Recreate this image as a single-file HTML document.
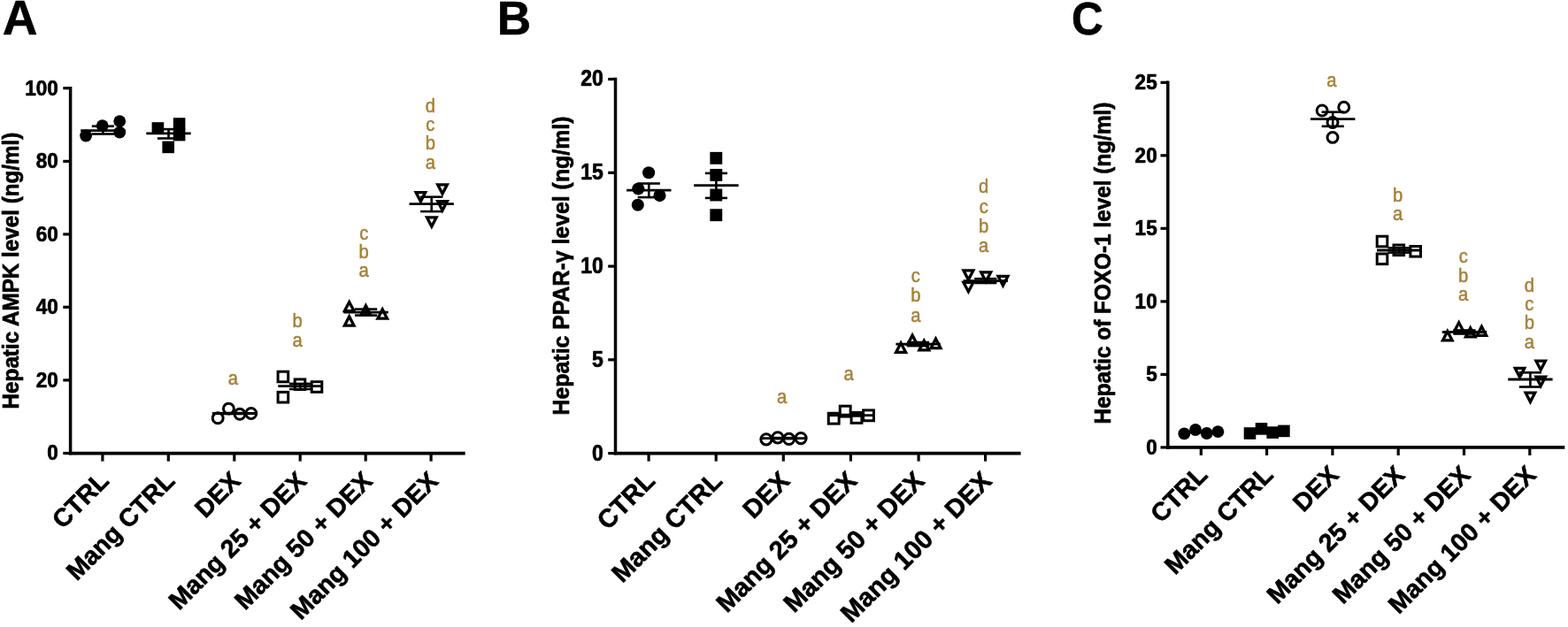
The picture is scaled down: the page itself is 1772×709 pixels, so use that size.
<!DOCTYPE html>
<html lang="en">
<head>
<meta charset="utf-8">
<title>Hepatic AMPK, PPAR-γ and FOXO-1 levels</title>
<style>
html,body{margin:0;padding:0;background:#fff;}
body{width:1772px;height:709px;overflow:hidden;}
svg{display:block;font-family:'Liberation Sans', sans-serif;}
</style>
</head>
<body>
<svg width="1772" height="709" viewBox="0 0 1772 709">
<rect width="1772" height="709" fill="#fff"/>
<g id="panel-A">
<circle cx="97.1" cy="153.5" r="6.9" fill="#000"/>
<circle cx="115.7" cy="142.2" r="6.9" fill="#000"/>
<circle cx="135.2" cy="137.1" r="6.9" fill="#000"/>
<circle cx="135.2" cy="149.7" r="6.9" fill="#000"/>
<rect x="171.6" y="138.2" width="13.6" height="13.6" fill="#000"/>
<rect x="195.8" y="133.2" width="13.6" height="13.6" fill="#000"/>
<rect x="195.8" y="145.8" width="13.6" height="13.6" fill="#000"/>
<rect x="183.4" y="159.6" width="13.6" height="13.6" fill="#000"/>
<circle cx="246.2" cy="472.8" r="5.95" fill="#fff" stroke="#000" stroke-width="3.0"/>
<circle cx="258.4" cy="462.1" r="5.95" fill="#fff" stroke="#000" stroke-width="3.0"/>
<circle cx="271" cy="468.3" r="5.95" fill="#fff" stroke="#000" stroke-width="3.0"/>
<circle cx="283.8" cy="467.5" r="5.95" fill="#fff" stroke="#000" stroke-width="3.0"/>
<rect x="314.1" y="420.2" width="11.6" height="11.6" fill="#fff" stroke="#000" stroke-width="3.0"/>
<rect x="314.1" y="443.4" width="11.6" height="11.6" fill="#fff" stroke="#000" stroke-width="3.0"/>
<rect x="333.2" y="428.9" width="11.6" height="11.6" fill="#fff" stroke="#000" stroke-width="3.0"/>
<rect x="352.2" y="431.7" width="11.6" height="11.6" fill="#fff" stroke="#000" stroke-width="3.0"/>
<polygon points="394.7,337.9 386.7,353.3 402.7,353.3" fill="#000"/>
<polygon points="394.7,345.06 392.13,350 397.27,350" fill="#fff"/>
<polygon points="394.7,354.3 386.7,369.7 402.7,369.7" fill="#000"/>
<polygon points="394.7,361.46 392.13,366.4 397.27,366.4" fill="#fff"/>
<polygon points="413.4,342.1 405.4,357.5 421.4,357.5" fill="#000"/>
<polygon points="413.4,349.26 410.83,354.2 415.97,354.2" fill="#fff"/>
<polygon points="432.2,346.3 424.2,361.7 440.2,361.7" fill="#000"/>
<polygon points="432.2,353.46 429.63,358.4 434.77,358.4" fill="#fff"/>
<polygon points="475.4,231.4 467.4,216 483.4,216" fill="#000"/>
<polygon points="475.4,224.24 472.83,219.3 477.97,219.3" fill="#fff"/>
<polygon points="500,222.7 492,207.3 508,207.3" fill="#000"/>
<polygon points="500,215.54 497.43,210.6 502.57,210.6" fill="#fff"/>
<polygon points="500,241.5 492,226.1 508,226.1" fill="#000"/>
<polygon points="500,234.34 497.43,229.4 502.57,229.4" fill="#fff"/>
<polygon points="487.8,259.7 479.8,244.3 495.8,244.3" fill="#000"/>
<polygon points="487.8,252.54 485.23,247.6 490.37,247.6" fill="#fff"/>
<line x1="91.2" y1="147.6" x2="141.6" y2="147.6" stroke="#000" stroke-width="2.8"/>
<line x1="103.8" y1="142.7" x2="129" y2="142.7" stroke="#000" stroke-width="2.5999999999999996"/>
<line x1="103.8" y1="151.5" x2="129" y2="151.5" stroke="#000" stroke-width="2.5999999999999996"/>
<line x1="116.4" y1="142.7" x2="116.4" y2="151.5" stroke="#000" stroke-width="2.5999999999999996"/>
<line x1="165.3" y1="150.9" x2="215.7" y2="150.9" stroke="#000" stroke-width="2.8"/>
<line x1="177.9" y1="146.1" x2="203.1" y2="146.1" stroke="#000" stroke-width="2.5999999999999996"/>
<line x1="177.9" y1="156.5" x2="203.1" y2="156.5" stroke="#000" stroke-width="2.5999999999999996"/>
<line x1="190.5" y1="146.1" x2="190.5" y2="156.5" stroke="#000" stroke-width="2.5999999999999996"/>
<line x1="239.8" y1="467.5" x2="290.2" y2="467.5" stroke="#000" stroke-width="2.8"/>
<line x1="252.4" y1="467" x2="277.6" y2="467" stroke="#000" stroke-width="2.5999999999999996"/>
<line x1="252.4" y1="468" x2="277.6" y2="468" stroke="#000" stroke-width="2.5999999999999996"/>
<line x1="265" y1="467" x2="265" y2="468" stroke="#000" stroke-width="2.5999999999999996"/>
<text transform="translate(263.3 434.9) scale(0.94 1)" font-size="21.5" font-weight="normal" text-anchor="middle" fill="#a68037" stroke="#a68037" stroke-width="0.5" stroke-linejoin="round">a</text>
<line x1="314.3" y1="436.7" x2="364.7" y2="436.7" stroke="#000" stroke-width="2.8"/>
<line x1="326.9" y1="433.9" x2="352.1" y2="433.9" stroke="#000" stroke-width="2.5999999999999996"/>
<line x1="326.9" y1="440" x2="352.1" y2="440" stroke="#000" stroke-width="2.5999999999999996"/>
<line x1="339.5" y1="433.9" x2="339.5" y2="440" stroke="#000" stroke-width="2.5999999999999996"/>
<text transform="translate(336.1 392.2) scale(0.94 1)" font-size="21.5" font-weight="normal" text-anchor="middle" fill="#a68037" stroke="#a68037" stroke-width="0.5" stroke-linejoin="round">a</text>
<text transform="translate(336.1 369.6) scale(0.94 1)" font-size="21.5" font-weight="normal" text-anchor="middle" fill="#a68037" stroke="#a68037" stroke-width="0.5" stroke-linejoin="round">b</text>
<line x1="388.4" y1="353.2" x2="438.8" y2="353.2" stroke="#000" stroke-width="2.8"/>
<line x1="401" y1="349.6" x2="426.2" y2="349.6" stroke="#000" stroke-width="2.5999999999999996"/>
<line x1="401" y1="356.6" x2="426.2" y2="356.6" stroke="#000" stroke-width="2.5999999999999996"/>
<line x1="413.6" y1="349.6" x2="413.6" y2="356.6" stroke="#000" stroke-width="2.5999999999999996"/>
<text transform="translate(411.2 313.1) scale(0.94 1)" font-size="21.5" font-weight="normal" text-anchor="middle" fill="#a68037" stroke="#a68037" stroke-width="0.5" stroke-linejoin="round">a</text>
<text transform="translate(411.2 291.9) scale(0.94 1)" font-size="21.5" font-weight="normal" text-anchor="middle" fill="#a68037" stroke="#a68037" stroke-width="0.5" stroke-linejoin="round">b</text>
<text transform="translate(411.2 270.7) scale(0.94 1)" font-size="21.5" font-weight="normal" text-anchor="middle" fill="#a68037" stroke="#a68037" stroke-width="0.5" stroke-linejoin="round">c</text>
<line x1="462.5" y1="230.6" x2="512.9" y2="230.6" stroke="#000" stroke-width="2.8"/>
<line x1="475.1" y1="222.7" x2="500.3" y2="222.7" stroke="#000" stroke-width="2.5999999999999996"/>
<line x1="475.1" y1="239.1" x2="500.3" y2="239.1" stroke="#000" stroke-width="2.5999999999999996"/>
<line x1="487.7" y1="222.7" x2="487.7" y2="239.1" stroke="#000" stroke-width="2.5999999999999996"/>
<text transform="translate(486.3 190.6) scale(0.94 1)" font-size="21.5" font-weight="normal" text-anchor="middle" fill="#a68037" stroke="#a68037" stroke-width="0.5" stroke-linejoin="round">a</text>
<text transform="translate(486.3 169.3) scale(0.94 1)" font-size="21.5" font-weight="normal" text-anchor="middle" fill="#a68037" stroke="#a68037" stroke-width="0.5" stroke-linejoin="round">b</text>
<text transform="translate(486.3 148) scale(0.94 1)" font-size="21.5" font-weight="normal" text-anchor="middle" fill="#a68037" stroke="#a68037" stroke-width="0.5" stroke-linejoin="round">c</text>
<text transform="translate(486.3 126.7) scale(0.94 1)" font-size="21.5" font-weight="normal" text-anchor="middle" fill="#a68037" stroke="#a68037" stroke-width="0.5" stroke-linejoin="round">d</text>
<line x1="79.6" y1="97.95" x2="79.6" y2="514.35" stroke="#000" stroke-width="3.5"/>
<line x1="77.85" y1="512.6" x2="525.7" y2="512.6" stroke="#000" stroke-width="3.7"/>
<line x1="71.3" y1="512.5" x2="79.6" y2="512.5" stroke="#000" stroke-width="3.2"/>
<text transform="translate(65.9 520.4) scale(0.925 1)" font-size="24.4" font-weight="bold" text-anchor="end" fill="#000" stroke="#000" stroke-width="0.7" stroke-linejoin="round">0</text>
<line x1="71.3" y1="429.9" x2="79.6" y2="429.9" stroke="#000" stroke-width="3.2"/>
<text transform="translate(65.9 437.8) scale(0.925 1)" font-size="24.4" font-weight="bold" text-anchor="end" fill="#000" stroke="#000" stroke-width="0.7" stroke-linejoin="round">20</text>
<line x1="71.3" y1="347.3" x2="79.6" y2="347.3" stroke="#000" stroke-width="3.2"/>
<text transform="translate(65.9 355.2) scale(0.925 1)" font-size="24.4" font-weight="bold" text-anchor="end" fill="#000" stroke="#000" stroke-width="0.7" stroke-linejoin="round">40</text>
<line x1="71.3" y1="264.9" x2="79.6" y2="264.9" stroke="#000" stroke-width="3.2"/>
<text transform="translate(65.9 272.8) scale(0.925 1)" font-size="24.4" font-weight="bold" text-anchor="end" fill="#000" stroke="#000" stroke-width="0.7" stroke-linejoin="round">60</text>
<line x1="71.3" y1="182.4" x2="79.6" y2="182.4" stroke="#000" stroke-width="3.2"/>
<text transform="translate(65.9 190.3) scale(0.925 1)" font-size="24.4" font-weight="bold" text-anchor="end" fill="#000" stroke="#000" stroke-width="0.7" stroke-linejoin="round">80</text>
<line x1="71.3" y1="99.7" x2="79.6" y2="99.7" stroke="#000" stroke-width="3.2"/>
<text transform="translate(65.9 107.6) scale(0.925 1)" font-size="24.4" font-weight="bold" text-anchor="end" fill="#000" stroke="#000" stroke-width="0.7" stroke-linejoin="round">100</text>
<line x1="115.9" y1="512.6" x2="115.9" y2="521.6" stroke="#000" stroke-width="3.2"/>
<text transform="translate(124.6 545.4) rotate(-45)" font-size="28.6" font-weight="bold" text-anchor="end" fill="#000" stroke="#000" stroke-width="0.6" stroke-linejoin="round">CTRL</text>
<line x1="190.3" y1="512.6" x2="190.3" y2="521.6" stroke="#000" stroke-width="3.2"/>
<text transform="translate(199 545.4) rotate(-45)" font-size="28.6" font-weight="bold" text-anchor="end" fill="#000" stroke="#000" stroke-width="0.6" stroke-linejoin="round">Mang CTRL</text>
<line x1="264.8" y1="512.6" x2="264.8" y2="521.6" stroke="#000" stroke-width="3.2"/>
<text transform="translate(273.5 545.4) rotate(-45)" font-size="28.6" font-weight="bold" text-anchor="end" fill="#000" stroke="#000" stroke-width="0.6" stroke-linejoin="round">DEX</text>
<line x1="339.2" y1="512.6" x2="339.2" y2="521.6" stroke="#000" stroke-width="3.2"/>
<text transform="translate(347.9 545.4) rotate(-45)" font-size="28.6" font-weight="bold" text-anchor="end" fill="#000" stroke="#000" stroke-width="0.6" stroke-linejoin="round">Mang 25 + DEX</text>
<line x1="413.2" y1="512.6" x2="413.2" y2="521.6" stroke="#000" stroke-width="3.2"/>
<text transform="translate(422.4 545.4) rotate(-45)" font-size="28.6" font-weight="bold" text-anchor="end" fill="#000" stroke="#000" stroke-width="0.6" stroke-linejoin="round">Mang 50 + DEX</text>
<line x1="487.1" y1="512.6" x2="487.1" y2="521.6" stroke="#000" stroke-width="3.2"/>
<text transform="translate(496.8 545.4) rotate(-45)" font-size="28.6" font-weight="bold" text-anchor="end" fill="#000" stroke="#000" stroke-width="0.6" stroke-linejoin="round">Mang 100 + DEX</text>
<text transform="translate(21.4 306) rotate(-90) scale(0.9431 1)" font-size="25.7" font-weight="bold" text-anchor="middle" fill="#000" stroke="#000" stroke-width="0.7" stroke-linejoin="round">Hepatic AMPK level (ng/ml)</text>
<text transform="translate(2.7 39.4)" font-size="55.0" font-weight="bold" text-anchor="start" fill="#000" stroke="#000" stroke-width="0.6" stroke-linejoin="round">A</text>
</g>
<g id="panel-B">
<circle cx="733.1" cy="195.3" r="7.05" fill="#000"/>
<circle cx="721.3" cy="213.5" r="7.05" fill="#000"/>
<circle cx="745.5" cy="221.1" r="7.05" fill="#000"/>
<circle cx="720.8" cy="231.7" r="7.05" fill="#000"/>
<rect x="802.35" y="171.85" width="13.9" height="13.9" fill="#000"/>
<rect x="802.35" y="190.95" width="13.9" height="13.9" fill="#000"/>
<rect x="802.35" y="213.55" width="13.9" height="13.9" fill="#000"/>
<rect x="802.35" y="236.25" width="13.9" height="13.9" fill="#000"/>
<circle cx="865.9" cy="496.8" r="6.08" fill="#fff" stroke="#000" stroke-width="3.0"/>
<circle cx="878.9" cy="494.8" r="6.08" fill="#fff" stroke="#000" stroke-width="3.0"/>
<circle cx="891.6" cy="496.4" r="6.08" fill="#fff" stroke="#000" stroke-width="3.0"/>
<circle cx="905.1" cy="495.6" r="6.08" fill="#fff" stroke="#000" stroke-width="3.0"/>
<rect x="936.27" y="467.27" width="11.86" height="11.86" fill="#fff" stroke="#000" stroke-width="3.0"/>
<rect x="949.27" y="459.17" width="11.86" height="11.86" fill="#fff" stroke="#000" stroke-width="3.0"/>
<rect x="962.07" y="466.47" width="11.86" height="11.86" fill="#fff" stroke="#000" stroke-width="3.0"/>
<rect x="975.57" y="463.87" width="11.86" height="11.86" fill="#fff" stroke="#000" stroke-width="3.0"/>
<polygon points="1018.1,384.33 1009.92,400.07 1026.28,400.07" fill="#000"/>
<polygon points="1018.1,391.49 1015.36,396.77 1020.84,396.77" fill="#fff"/>
<polygon points="1031.1,375.53 1022.92,391.27 1039.28,391.27" fill="#000"/>
<polygon points="1031.1,382.69 1028.36,387.97 1033.84,387.97" fill="#fff"/>
<polygon points="1044.3,381.83 1036.12,397.57 1052.48,397.57" fill="#000"/>
<polygon points="1044.3,388.99 1041.56,394.27 1047.04,394.27" fill="#fff"/>
<polygon points="1057.5,379.53 1049.32,395.27 1065.68,395.27" fill="#000"/>
<polygon points="1057.5,386.69 1054.76,391.97 1060.24,391.97" fill="#fff"/>
<polygon points="1094.4,319.97 1086.22,304.23 1102.58,304.23" fill="#000"/>
<polygon points="1094.4,312.81 1091.66,307.53 1097.14,307.53" fill="#fff"/>
<polygon points="1094.4,333.37 1086.22,317.63 1102.58,317.63" fill="#000"/>
<polygon points="1094.4,326.21 1091.66,320.93 1097.14,320.93" fill="#fff"/>
<polygon points="1114.2,321.97 1106.02,306.23 1122.38,306.23" fill="#000"/>
<polygon points="1114.2,314.81 1111.46,309.53 1116.94,309.53" fill="#fff"/>
<polygon points="1133.5,326.47 1125.32,310.73 1141.68,310.73" fill="#000"/>
<polygon points="1133.5,319.31 1130.76,314.03 1136.24,314.03" fill="#fff"/>
<line x1="708.1" y1="215.1" x2="758.5" y2="215.1" stroke="#000" stroke-width="2.8"/>
<line x1="720.7" y1="207.5" x2="745.9" y2="207.5" stroke="#000" stroke-width="2.5999999999999996"/>
<line x1="720.7" y1="223.1" x2="745.9" y2="223.1" stroke="#000" stroke-width="2.5999999999999996"/>
<line x1="733.3" y1="207.5" x2="733.3" y2="223.1" stroke="#000" stroke-width="2.5999999999999996"/>
<line x1="784.2" y1="209.7" x2="834.6" y2="209.7" stroke="#000" stroke-width="2.8"/>
<line x1="796.8" y1="195.9" x2="822" y2="195.9" stroke="#000" stroke-width="2.5999999999999996"/>
<line x1="796.8" y1="223.9" x2="822" y2="223.9" stroke="#000" stroke-width="2.5999999999999996"/>
<line x1="809.4" y1="195.9" x2="809.4" y2="223.9" stroke="#000" stroke-width="2.5999999999999996"/>
<line x1="860.1" y1="495.6" x2="910.5" y2="495.6" stroke="#000" stroke-width="2.8"/>
<line x1="872.7" y1="495.1" x2="897.9" y2="495.1" stroke="#000" stroke-width="2.5999999999999996"/>
<line x1="872.7" y1="496.1" x2="897.9" y2="496.1" stroke="#000" stroke-width="2.5999999999999996"/>
<line x1="885.3" y1="495.1" x2="885.3" y2="496.1" stroke="#000" stroke-width="2.5999999999999996"/>
<text transform="translate(883.7 456.4) scale(0.94 1)" font-size="21.5" font-weight="normal" text-anchor="middle" fill="#a68037" stroke="#a68037" stroke-width="0.5" stroke-linejoin="round">a</text>
<line x1="936.4" y1="469.7" x2="986.8" y2="469.7" stroke="#000" stroke-width="2.8"/>
<line x1="949" y1="469" x2="974.2" y2="469" stroke="#000" stroke-width="2.5999999999999996"/>
<line x1="949" y1="470.4" x2="974.2" y2="470.4" stroke="#000" stroke-width="2.5999999999999996"/>
<line x1="961.6" y1="469" x2="961.6" y2="470.4" stroke="#000" stroke-width="2.5999999999999996"/>
<text transform="translate(959.2 429.8) scale(0.94 1)" font-size="21.5" font-weight="normal" text-anchor="middle" fill="#a68037" stroke="#a68037" stroke-width="0.5" stroke-linejoin="round">a</text>
<line x1="1012.4" y1="389.1" x2="1062.8" y2="389.1" stroke="#000" stroke-width="2.8"/>
<line x1="1025" y1="387.1" x2="1050.2" y2="387.1" stroke="#000" stroke-width="2.5999999999999996"/>
<line x1="1025" y1="391.1" x2="1050.2" y2="391.1" stroke="#000" stroke-width="2.5999999999999996"/>
<line x1="1037.6" y1="387.1" x2="1037.6" y2="391.1" stroke="#000" stroke-width="2.5999999999999996"/>
<text transform="translate(1034.8 363.5) scale(0.94 1)" font-size="21.5" font-weight="normal" text-anchor="middle" fill="#a68037" stroke="#a68037" stroke-width="0.5" stroke-linejoin="round">a</text>
<text transform="translate(1034.8 341.3) scale(0.94 1)" font-size="21.5" font-weight="normal" text-anchor="middle" fill="#a68037" stroke="#a68037" stroke-width="0.5" stroke-linejoin="round">b</text>
<text transform="translate(1034.8 319.1) scale(0.94 1)" font-size="21.5" font-weight="normal" text-anchor="middle" fill="#a68037" stroke="#a68037" stroke-width="0.5" stroke-linejoin="round">c</text>
<line x1="1088.6" y1="317.6" x2="1139" y2="317.6" stroke="#000" stroke-width="2.8"/>
<line x1="1101.2" y1="315.2" x2="1126.4" y2="315.2" stroke="#000" stroke-width="2.5999999999999996"/>
<line x1="1101.2" y1="320" x2="1126.4" y2="320" stroke="#000" stroke-width="2.5999999999999996"/>
<line x1="1113.8" y1="315.2" x2="1113.8" y2="320" stroke="#000" stroke-width="2.5999999999999996"/>
<text transform="translate(1111.7 285.3) scale(0.94 1)" font-size="21.5" font-weight="normal" text-anchor="middle" fill="#a68037" stroke="#a68037" stroke-width="0.5" stroke-linejoin="round">a</text>
<text transform="translate(1111.7 263) scale(0.94 1)" font-size="21.5" font-weight="normal" text-anchor="middle" fill="#a68037" stroke="#a68037" stroke-width="0.5" stroke-linejoin="round">b</text>
<text transform="translate(1111.7 240.7) scale(0.94 1)" font-size="21.5" font-weight="normal" text-anchor="middle" fill="#a68037" stroke="#a68037" stroke-width="0.5" stroke-linejoin="round">c</text>
<text transform="translate(1111.7 218.4) scale(0.94 1)" font-size="21.5" font-weight="normal" text-anchor="middle" fill="#a68037" stroke="#a68037" stroke-width="0.5" stroke-linejoin="round">d</text>
<line x1="695.5" y1="87.75" x2="695.5" y2="514.35" stroke="#000" stroke-width="3.5"/>
<line x1="693.75" y1="512.6" x2="1153.6" y2="512.6" stroke="#000" stroke-width="3.7"/>
<line x1="687.2" y1="512.6" x2="695.5" y2="512.6" stroke="#000" stroke-width="3.2"/>
<text transform="translate(681.8 520.5) scale(0.925 1)" font-size="24.94" font-weight="bold" text-anchor="end" fill="#000" stroke="#000" stroke-width="0.7" stroke-linejoin="round">0</text>
<line x1="687.2" y1="406.8" x2="695.5" y2="406.8" stroke="#000" stroke-width="3.2"/>
<text transform="translate(681.8 414.7) scale(0.925 1)" font-size="24.94" font-weight="bold" text-anchor="end" fill="#000" stroke="#000" stroke-width="0.7" stroke-linejoin="round">5</text>
<line x1="687.2" y1="301.1" x2="695.5" y2="301.1" stroke="#000" stroke-width="3.2"/>
<text transform="translate(681.8 309) scale(0.925 1)" font-size="24.94" font-weight="bold" text-anchor="end" fill="#000" stroke="#000" stroke-width="0.7" stroke-linejoin="round">10</text>
<line x1="687.2" y1="195.3" x2="695.5" y2="195.3" stroke="#000" stroke-width="3.2"/>
<text transform="translate(681.8 203.2) scale(0.925 1)" font-size="24.94" font-weight="bold" text-anchor="end" fill="#000" stroke="#000" stroke-width="0.7" stroke-linejoin="round">15</text>
<line x1="687.2" y1="89.5" x2="695.5" y2="89.5" stroke="#000" stroke-width="3.2"/>
<text transform="translate(681.8 97.4) scale(0.925 1)" font-size="24.94" font-weight="bold" text-anchor="end" fill="#000" stroke="#000" stroke-width="0.7" stroke-linejoin="round">20</text>
<line x1="733.1" y1="512.6" x2="733.1" y2="521.6" stroke="#000" stroke-width="3.2"/>
<text transform="translate(741.8 545.4) rotate(-45)" font-size="29.23" font-weight="bold" text-anchor="end" fill="#000" stroke="#000" stroke-width="0.6" stroke-linejoin="round">CTRL</text>
<line x1="809.2" y1="512.6" x2="809.2" y2="521.6" stroke="#000" stroke-width="3.2"/>
<text transform="translate(817.9 545.4) rotate(-45)" font-size="29.23" font-weight="bold" text-anchor="end" fill="#000" stroke="#000" stroke-width="0.6" stroke-linejoin="round">Mang CTRL</text>
<line x1="885.3" y1="512.6" x2="885.3" y2="521.6" stroke="#000" stroke-width="3.2"/>
<text transform="translate(894 545.4) rotate(-45)" font-size="29.23" font-weight="bold" text-anchor="end" fill="#000" stroke="#000" stroke-width="0.6" stroke-linejoin="round">DEX</text>
<line x1="961.4" y1="512.6" x2="961.4" y2="521.6" stroke="#000" stroke-width="3.2"/>
<text transform="translate(970.1 545.4) rotate(-45)" font-size="29.23" font-weight="bold" text-anchor="end" fill="#000" stroke="#000" stroke-width="0.6" stroke-linejoin="round">Mang 25 + DEX</text>
<line x1="1038.1" y1="512.6" x2="1038.1" y2="521.6" stroke="#000" stroke-width="3.2"/>
<text transform="translate(1046.2 545.4) rotate(-45)" font-size="29.23" font-weight="bold" text-anchor="end" fill="#000" stroke="#000" stroke-width="0.6" stroke-linejoin="round">Mang 50 + DEX</text>
<line x1="1113.6" y1="512.6" x2="1113.6" y2="521.6" stroke="#000" stroke-width="3.2"/>
<text transform="translate(1122.3 545.4) rotate(-45)" font-size="29.23" font-weight="bold" text-anchor="end" fill="#000" stroke="#000" stroke-width="0.6" stroke-linejoin="round">Mang 100 + DEX</text>
<text transform="translate(642.9 300.5) rotate(-90) scale(0.9462 1)" font-size="26.27" font-weight="bold" text-anchor="middle" fill="#000" stroke="#000" stroke-width="0.7" stroke-linejoin="round">Hepatic PPAR-γ level (ng/ml)</text>
<text transform="translate(561.65 39.17) scale(0.996 1)" font-size="53.3" font-weight="bold" text-anchor="start" fill="#000" stroke="#000" stroke-width="0.6" stroke-linejoin="round">B</text>
</g>
<g id="panel-C">
<circle cx="1338.3" cy="490.4" r="6.9" fill="#000"/>
<circle cx="1351" cy="486" r="6.9" fill="#000"/>
<circle cx="1363.7" cy="490" r="6.9" fill="#000"/>
<circle cx="1376.4" cy="488.2" r="6.9" fill="#000"/>
<rect x="1405.7" y="483.2" width="13.6" height="13.6" fill="#000"/>
<rect x="1418.7" y="478.1" width="13.6" height="13.6" fill="#000"/>
<rect x="1431.4" y="482.3" width="13.6" height="13.6" fill="#000"/>
<rect x="1444.1" y="480.6" width="13.6" height="13.6" fill="#000"/>
<circle cx="1494.1" cy="125" r="5.95" fill="#fff" stroke="#000" stroke-width="3.0"/>
<circle cx="1518.7" cy="121.3" r="5.95" fill="#fff" stroke="#000" stroke-width="3.0"/>
<circle cx="1506" cy="138.5" r="5.95" fill="#fff" stroke="#000" stroke-width="3.0"/>
<circle cx="1506" cy="155.4" r="5.95" fill="#fff" stroke="#000" stroke-width="3.0"/>
<rect x="1556.2" y="267.2" width="11.6" height="11.6" fill="#fff" stroke="#000" stroke-width="3.0"/>
<rect x="1556.2" y="287" width="11.6" height="11.6" fill="#fff" stroke="#000" stroke-width="3.0"/>
<rect x="1575" y="277" width="11.6" height="11.6" fill="#fff" stroke="#000" stroke-width="3.0"/>
<rect x="1593.9" y="278.5" width="11.6" height="11.6" fill="#fff" stroke="#000" stroke-width="3.0"/>
<polygon points="1635.8,371.1 1627.8,386.5 1643.8,386.5" fill="#000"/>
<polygon points="1635.8,378.26 1633.23,383.2 1638.37,383.2" fill="#fff"/>
<polygon points="1648.7,361.2 1640.7,376.6 1656.7,376.6" fill="#000"/>
<polygon points="1648.7,368.36 1646.13,373.3 1651.27,373.3" fill="#fff"/>
<polygon points="1661.7,367.2 1653.7,382.6 1669.7,382.6" fill="#000"/>
<polygon points="1661.7,374.36 1659.13,379.3 1664.27,379.3" fill="#fff"/>
<polygon points="1674.4,365.7 1666.4,381.1 1682.4,381.1" fill="#000"/>
<polygon points="1674.4,372.86 1671.83,377.8 1676.97,377.8" fill="#fff"/>
<polygon points="1717.5,430.2 1709.5,414.8 1725.5,414.8" fill="#000"/>
<polygon points="1717.5,423.04 1714.93,418.1 1720.07,418.1" fill="#fff"/>
<polygon points="1741.2,421.8 1733.2,406.4 1749.2,406.4" fill="#000"/>
<polygon points="1741.2,414.64 1738.63,409.7 1743.77,409.7" fill="#fff"/>
<polygon points="1741.2,440 1733.2,424.6 1749.2,424.6" fill="#000"/>
<polygon points="1741.2,432.84 1738.63,427.9 1743.77,427.9" fill="#fff"/>
<polygon points="1729.4,457.9 1721.4,442.5 1737.4,442.5" fill="#000"/>
<polygon points="1729.4,450.74 1726.83,445.8 1731.97,445.8" fill="#fff"/>
<line x1="1332.2" y1="488.6" x2="1382.6" y2="488.6" stroke="#000" stroke-width="2.8"/>
<line x1="1344.8" y1="488.1" x2="1370" y2="488.1" stroke="#000" stroke-width="2.5999999999999996"/>
<line x1="1344.8" y1="489.1" x2="1370" y2="489.1" stroke="#000" stroke-width="2.5999999999999996"/>
<line x1="1357.4" y1="488.1" x2="1357.4" y2="489.1" stroke="#000" stroke-width="2.5999999999999996"/>
<line x1="1406.5" y1="487.8" x2="1456.9" y2="487.8" stroke="#000" stroke-width="2.8"/>
<line x1="1419.1" y1="487.3" x2="1444.3" y2="487.3" stroke="#000" stroke-width="2.5999999999999996"/>
<line x1="1419.1" y1="488.3" x2="1444.3" y2="488.3" stroke="#000" stroke-width="2.5999999999999996"/>
<line x1="1431.7" y1="487.3" x2="1431.7" y2="488.3" stroke="#000" stroke-width="2.5999999999999996"/>
<line x1="1481" y1="134.6" x2="1531.4" y2="134.6" stroke="#000" stroke-width="2.8"/>
<line x1="1493.6" y1="126.7" x2="1518.8" y2="126.7" stroke="#000" stroke-width="2.5999999999999996"/>
<line x1="1493.6" y1="142.8" x2="1518.8" y2="142.8" stroke="#000" stroke-width="2.5999999999999996"/>
<line x1="1506.2" y1="126.7" x2="1506.2" y2="142.8" stroke="#000" stroke-width="2.5999999999999996"/>
<text transform="translate(1504.8 97.6) scale(0.94 1)" font-size="21.5" font-weight="normal" text-anchor="middle" fill="#a68037" stroke="#a68037" stroke-width="0.5" stroke-linejoin="round">a</text>
<line x1="1556" y1="283" x2="1606.4" y2="283" stroke="#000" stroke-width="2.8"/>
<line x1="1568.6" y1="280.4" x2="1593.8" y2="280.4" stroke="#000" stroke-width="2.5999999999999996"/>
<line x1="1568.6" y1="285.6" x2="1593.8" y2="285.6" stroke="#000" stroke-width="2.5999999999999996"/>
<line x1="1581.2" y1="280.4" x2="1581.2" y2="285.6" stroke="#000" stroke-width="2.5999999999999996"/>
<text transform="translate(1579.7 249) scale(0.94 1)" font-size="21.5" font-weight="normal" text-anchor="middle" fill="#a68037" stroke="#a68037" stroke-width="0.5" stroke-linejoin="round">a</text>
<text transform="translate(1579.7 227.8) scale(0.94 1)" font-size="21.5" font-weight="normal" text-anchor="middle" fill="#a68037" stroke="#a68037" stroke-width="0.5" stroke-linejoin="round">b</text>
<line x1="1629.8" y1="375.5" x2="1680.2" y2="375.5" stroke="#000" stroke-width="2.8"/>
<line x1="1642.4" y1="373.5" x2="1667.6" y2="373.5" stroke="#000" stroke-width="2.5999999999999996"/>
<line x1="1642.4" y1="377.5" x2="1667.6" y2="377.5" stroke="#000" stroke-width="2.5999999999999996"/>
<line x1="1655" y1="373.5" x2="1655" y2="377.5" stroke="#000" stroke-width="2.5999999999999996"/>
<text transform="translate(1653.7 340) scale(0.94 1)" font-size="21.5" font-weight="normal" text-anchor="middle" fill="#a68037" stroke="#a68037" stroke-width="0.5" stroke-linejoin="round">a</text>
<text transform="translate(1653.7 318.5) scale(0.94 1)" font-size="21.5" font-weight="normal" text-anchor="middle" fill="#a68037" stroke="#a68037" stroke-width="0.5" stroke-linejoin="round">b</text>
<text transform="translate(1653.7 297) scale(0.94 1)" font-size="21.5" font-weight="normal" text-anchor="middle" fill="#a68037" stroke="#a68037" stroke-width="0.5" stroke-linejoin="round">c</text>
<line x1="1704.2" y1="429" x2="1754.6" y2="429" stroke="#000" stroke-width="2.8"/>
<line x1="1716.8" y1="421.3" x2="1742" y2="421.3" stroke="#000" stroke-width="2.5999999999999996"/>
<line x1="1716.8" y1="437.5" x2="1742" y2="437.5" stroke="#000" stroke-width="2.5999999999999996"/>
<line x1="1729.4" y1="421.3" x2="1729.4" y2="437.5" stroke="#000" stroke-width="2.5999999999999996"/>
<text transform="translate(1728.4 393.6) scale(0.94 1)" font-size="21.5" font-weight="normal" text-anchor="middle" fill="#a68037" stroke="#a68037" stroke-width="0.5" stroke-linejoin="round">a</text>
<text transform="translate(1728.4 372.3) scale(0.94 1)" font-size="21.5" font-weight="normal" text-anchor="middle" fill="#a68037" stroke="#a68037" stroke-width="0.5" stroke-linejoin="round">b</text>
<text transform="translate(1728.4 351) scale(0.94 1)" font-size="21.5" font-weight="normal" text-anchor="middle" fill="#a68037" stroke="#a68037" stroke-width="0.5" stroke-linejoin="round">c</text>
<text transform="translate(1728.4 329.7) scale(0.94 1)" font-size="21.5" font-weight="normal" text-anchor="middle" fill="#a68037" stroke="#a68037" stroke-width="0.5" stroke-linejoin="round">d</text>
<line x1="1319.8" y1="91.55" x2="1319.8" y2="507.65" stroke="#000" stroke-width="3.5"/>
<line x1="1318.05" y1="505.9" x2="1768.3" y2="505.9" stroke="#000" stroke-width="3.7"/>
<line x1="1311.5" y1="505.9" x2="1319.8" y2="505.9" stroke="#000" stroke-width="3.2"/>
<text transform="translate(1307.7 513.8) scale(0.925 1)" font-size="24.4" font-weight="bold" text-anchor="end" fill="#000" stroke="#000" stroke-width="0.7" stroke-linejoin="round">0</text>
<line x1="1311.5" y1="423.4" x2="1319.8" y2="423.4" stroke="#000" stroke-width="3.2"/>
<text transform="translate(1307.7 431.3) scale(0.925 1)" font-size="24.4" font-weight="bold" text-anchor="end" fill="#000" stroke="#000" stroke-width="0.7" stroke-linejoin="round">5</text>
<line x1="1311.5" y1="340.9" x2="1319.8" y2="340.9" stroke="#000" stroke-width="3.2"/>
<text transform="translate(1307.7 348.8) scale(0.925 1)" font-size="24.4" font-weight="bold" text-anchor="end" fill="#000" stroke="#000" stroke-width="0.7" stroke-linejoin="round">10</text>
<line x1="1311.5" y1="258.3" x2="1319.8" y2="258.3" stroke="#000" stroke-width="3.2"/>
<text transform="translate(1307.7 266.2) scale(0.925 1)" font-size="24.4" font-weight="bold" text-anchor="end" fill="#000" stroke="#000" stroke-width="0.7" stroke-linejoin="round">15</text>
<line x1="1311.5" y1="175.8" x2="1319.8" y2="175.8" stroke="#000" stroke-width="3.2"/>
<text transform="translate(1307.7 183.7) scale(0.925 1)" font-size="24.4" font-weight="bold" text-anchor="end" fill="#000" stroke="#000" stroke-width="0.7" stroke-linejoin="round">20</text>
<line x1="1311.5" y1="93.3" x2="1319.8" y2="93.3" stroke="#000" stroke-width="3.2"/>
<text transform="translate(1307.7 101.2) scale(0.925 1)" font-size="24.4" font-weight="bold" text-anchor="end" fill="#000" stroke="#000" stroke-width="0.7" stroke-linejoin="round">25</text>
<line x1="1357.3" y1="505.9" x2="1357.3" y2="514.9" stroke="#000" stroke-width="3.2"/>
<text transform="translate(1366 538.7) rotate(-45)" font-size="28.6" font-weight="bold" text-anchor="end" fill="#000" stroke="#000" stroke-width="0.6" stroke-linejoin="round">CTRL</text>
<line x1="1431.6" y1="505.9" x2="1431.6" y2="514.9" stroke="#000" stroke-width="3.2"/>
<text transform="translate(1440.3 538.7) rotate(-45)" font-size="28.6" font-weight="bold" text-anchor="end" fill="#000" stroke="#000" stroke-width="0.6" stroke-linejoin="round">Mang CTRL</text>
<line x1="1505.9" y1="505.9" x2="1505.9" y2="514.9" stroke="#000" stroke-width="3.2"/>
<text transform="translate(1514.6 538.7) rotate(-45)" font-size="28.6" font-weight="bold" text-anchor="end" fill="#000" stroke="#000" stroke-width="0.6" stroke-linejoin="round">DEX</text>
<line x1="1580.2" y1="505.9" x2="1580.2" y2="514.9" stroke="#000" stroke-width="3.2"/>
<text transform="translate(1588.9 538.7) rotate(-45)" font-size="28.6" font-weight="bold" text-anchor="end" fill="#000" stroke="#000" stroke-width="0.6" stroke-linejoin="round">Mang 25 + DEX</text>
<line x1="1654.5" y1="505.9" x2="1654.5" y2="514.9" stroke="#000" stroke-width="3.2"/>
<text transform="translate(1663.2 538.7) rotate(-45)" font-size="28.6" font-weight="bold" text-anchor="end" fill="#000" stroke="#000" stroke-width="0.6" stroke-linejoin="round">Mang 50 + DEX</text>
<line x1="1728.8" y1="505.9" x2="1728.8" y2="514.9" stroke="#000" stroke-width="3.2"/>
<text transform="translate(1737.5 538.7) rotate(-45)" font-size="28.6" font-weight="bold" text-anchor="end" fill="#000" stroke="#000" stroke-width="0.6" stroke-linejoin="round">Mang 100 + DEX</text>
<text transform="translate(1254.8 297.5) rotate(-90) scale(0.9479 1)" font-size="25.7" font-weight="bold" text-anchor="middle" fill="#000" stroke="#000" stroke-width="0.7" stroke-linejoin="round">Hepatic of FOXO-1 level (ng/ml)</text>
<text transform="translate(1211.12 38.64) scale(0.957 1)" font-size="51.8" font-weight="bold" text-anchor="start" fill="#000" stroke="#000" stroke-width="0.6" stroke-linejoin="round">C</text>
</g>
</svg>
</body>
</html>
